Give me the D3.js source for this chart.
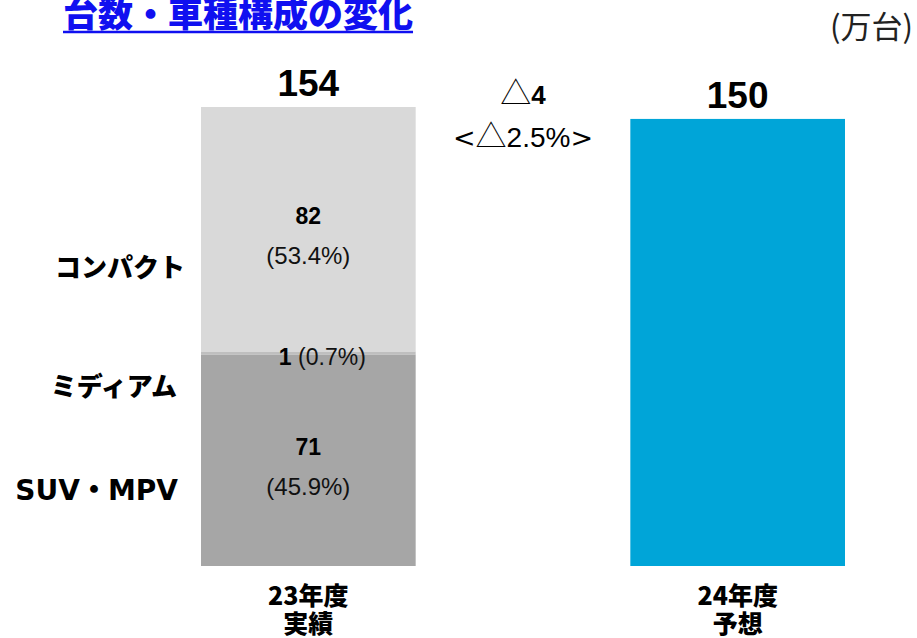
<!DOCTYPE html>
<html>
<head>
<meta charset="utf-8">
<script src="https://cdn.jsdelivr.net/npm/d3@7"></script>
<style>
  body { margin: 0; background: #fff; }
  text { font-family: "Liberation Sans", Arial, "Noto Sans CJK JP", sans-serif; }
  .jp { font-family: "Noto Sans CJK JP", sans-serif; }
  .dv { font-family: "DejaVu Sans", "Noto Sans CJK JP", sans-serif; }
</style>
</head>
<body>
<svg></svg>
<script>
const width = 917;
const height = 638;

// data
const years = ["23年度", "24年度"];
const yearNotes = ["実績", "予想"];
const totals = [154, 150];
const segments = ["SUV・MPV", "ミディアム", "コンパクト"];
const segValues23 = [71, 1, 82];
const segShares23 = ["45.9%", "0.7%", "53.4%"];
const segColors = ["#a6a6a6", "#bfbfbf", "#d9d9d9"];
const changeValue = "4";
const changePct = "2.5%";

const svg = d3.select("svg")
    .attr("width", width)
    .attr("height", height);

const xScale = d3.scaleBand()
  .domain(years)
  .range([201, 845])
  .paddingInner(0.5)
  .paddingOuter(0);

const yScale = d3.scaleLinear()
  .domain([0, 154])
  .range([566, 107]);

// stacked segments for 23年度
let stacked = [];
let acc = 0;
segValues23.forEach((v, i) => {
  stacked.push({ name: segments[i], value: v, share: segShares23[i], y0: acc, y1: acc + v, color: segColors[i] });
  acc += v;
});

svg.append("g")
  .selectAll("rect")
  .data(stacked)
  .enter()
  .append("rect")
    .attr("x", xScale(years[0]))
    .attr("width", xScale.bandwidth())
    .attr("y", d => yScale(d.y1))
    .attr("height", d => yScale(d.y0) - yScale(d.y1))
    .attr("fill", d => d.color);

// 24年度 bar
svg.append("rect")
    .attr("x", xScale(years[1]))
    .attr("width", xScale.bandwidth())
    .attr("y", yScale(totals[1]))
    .attr("height", yScale(0) - yScale(totals[1]))
    .attr("fill", "#00a5d8");

const cx = d => xScale(d) + xScale.bandwidth() / 2;

// totals on top
svg.append("g")
  .selectAll("text")
  .data(totals)
  .enter()
  .append("text")
    .attr("x", (d, i) => cx(years[i]))
    .attr("y", d => yScale(d) - 11)
    .attr("text-anchor", "middle")
    .style("font-size", "37px")
    .style("font-weight", "bold")
    .style("fill", "#000")
    .text(d => d);

// segment labels inside bar
const big = [stacked[0], stacked[2]];
big.forEach(d => {
  const mid = (yScale(d.y0) + yScale(d.y1)) / 2;
  svg.append("text")
      .attr("x", cx(years[0]))
      .attr("y", mid - 5)
      .attr("text-anchor", "middle")
      .style("font-size", "23px")
      .style("font-weight", "bold")
      .text(d.value);
  svg.append("text")
      .attr("x", cx(years[0]))
      .attr("y", mid + 35)
      .attr("text-anchor", "middle")
      .style("font-size", "24px")
      .style("fill", "#111")
      .text(`(${d.share})`);
});

const med = stacked[1];
const medText = svg.append("text")
    .attr("x", cx(years[0]) + 14)
    .attr("y", yScale((med.y0 + med.y1) / 2) + 12)
    .attr("text-anchor", "middle")
    .style("font-size", "23px");
medText.append("tspan").style("font-weight", "bold").text(med.value);
medText.append("tspan").style("fill", "#111").text(` (${med.share})`);

// category labels on the left
const labelShift = [40, 43, 48];
svg.append("g")
  .selectAll("text")
  .data(stacked)
  .enter()
  .append("text")
    .attr("class", (d, i) => i === 0 ? "dv" : "jp")
    .attr("x", (d, i) => i === 0 ? 178 : (i === 1 ? 177 : 185))
    .attr("y", (d, i) => (yScale(d.y0) + yScale(d.y1)) / 2 + labelShift[i])
    .attr("text-anchor", "end")
    .style("font-size", (d, i) => i === 0 ? "28px" : "26px")
    .style("font-weight", 900)
    .text(d => d.name);

// change annotation
const midX = (cx(years[0]) + cx(years[1])) / 2;
const ch = svg.append("text")
    .attr("x", midX)
    .attr("y", 104)
    .attr("text-anchor", "middle");
ch.append("tspan").attr("class", "jp").style("font-size", "31px").style("font-weight", 300).text("△");
ch.append("tspan").style("font-size", "26px").style("font-weight", "bold").text(changeValue);

const pct = svg.append("text")
    .attr("x", midX)
    .attr("y", 147)
    .attr("text-anchor", "middle")
    .style("font-size", "28px");
pct.append("tspan").attr("class", "dv").style("font-size", "27px").text("<");
pct.append("tspan").attr("class", "jp").style("font-size", "31px").style("font-weight", 300).text("△");
pct.append("tspan").text(changePct);
pct.append("tspan").attr("class", "dv").style("font-size", "27px").text(">");

// x labels
years.forEach((y, i) => {
  svg.append("text")
      .attr("class", "jp")
      .attr("x", cx(y))
      .attr("y", 605)
      .attr("text-anchor", "middle")
      .style("font-size", "25px")
      .style("font-weight", 900)
      .text(y);
  svg.append("text")
      .attr("class", "jp")
      .attr("x", cx(y))
      .attr("y", 633)
      .attr("text-anchor", "middle")
      .style("font-size", "25px")
      .style("font-weight", 900)
      .text(yearNotes[i]);
});

// title
const title = svg.append("text")
    .attr("class", "jp")
    .attr("x", 63)
    .attr("y", 27)
    .style("font-size", "35px")
    .style("font-weight", 900)
    .style("fill", "#1010f0")
    .text("台数・車種構成の変化");

const tw = title.node().getComputedTextLength();
svg.append("line")
    .attr("x1", 63)
    .attr("x2", 63 + tw)
    .attr("y1", 32)
    .attr("y2", 32)
    .attr("stroke", "#1010f0")
    .attr("stroke-width", 2.5);

// unit
svg.append("text")
    .attr("class", "jp")
    .attr("x", 913)
    .attr("y", 38)
    .attr("text-anchor", "end")
    .style("font-size", "31px")
    .style("fill", "#222")
    .text("(万台)");
</script>
</body>
</html>
